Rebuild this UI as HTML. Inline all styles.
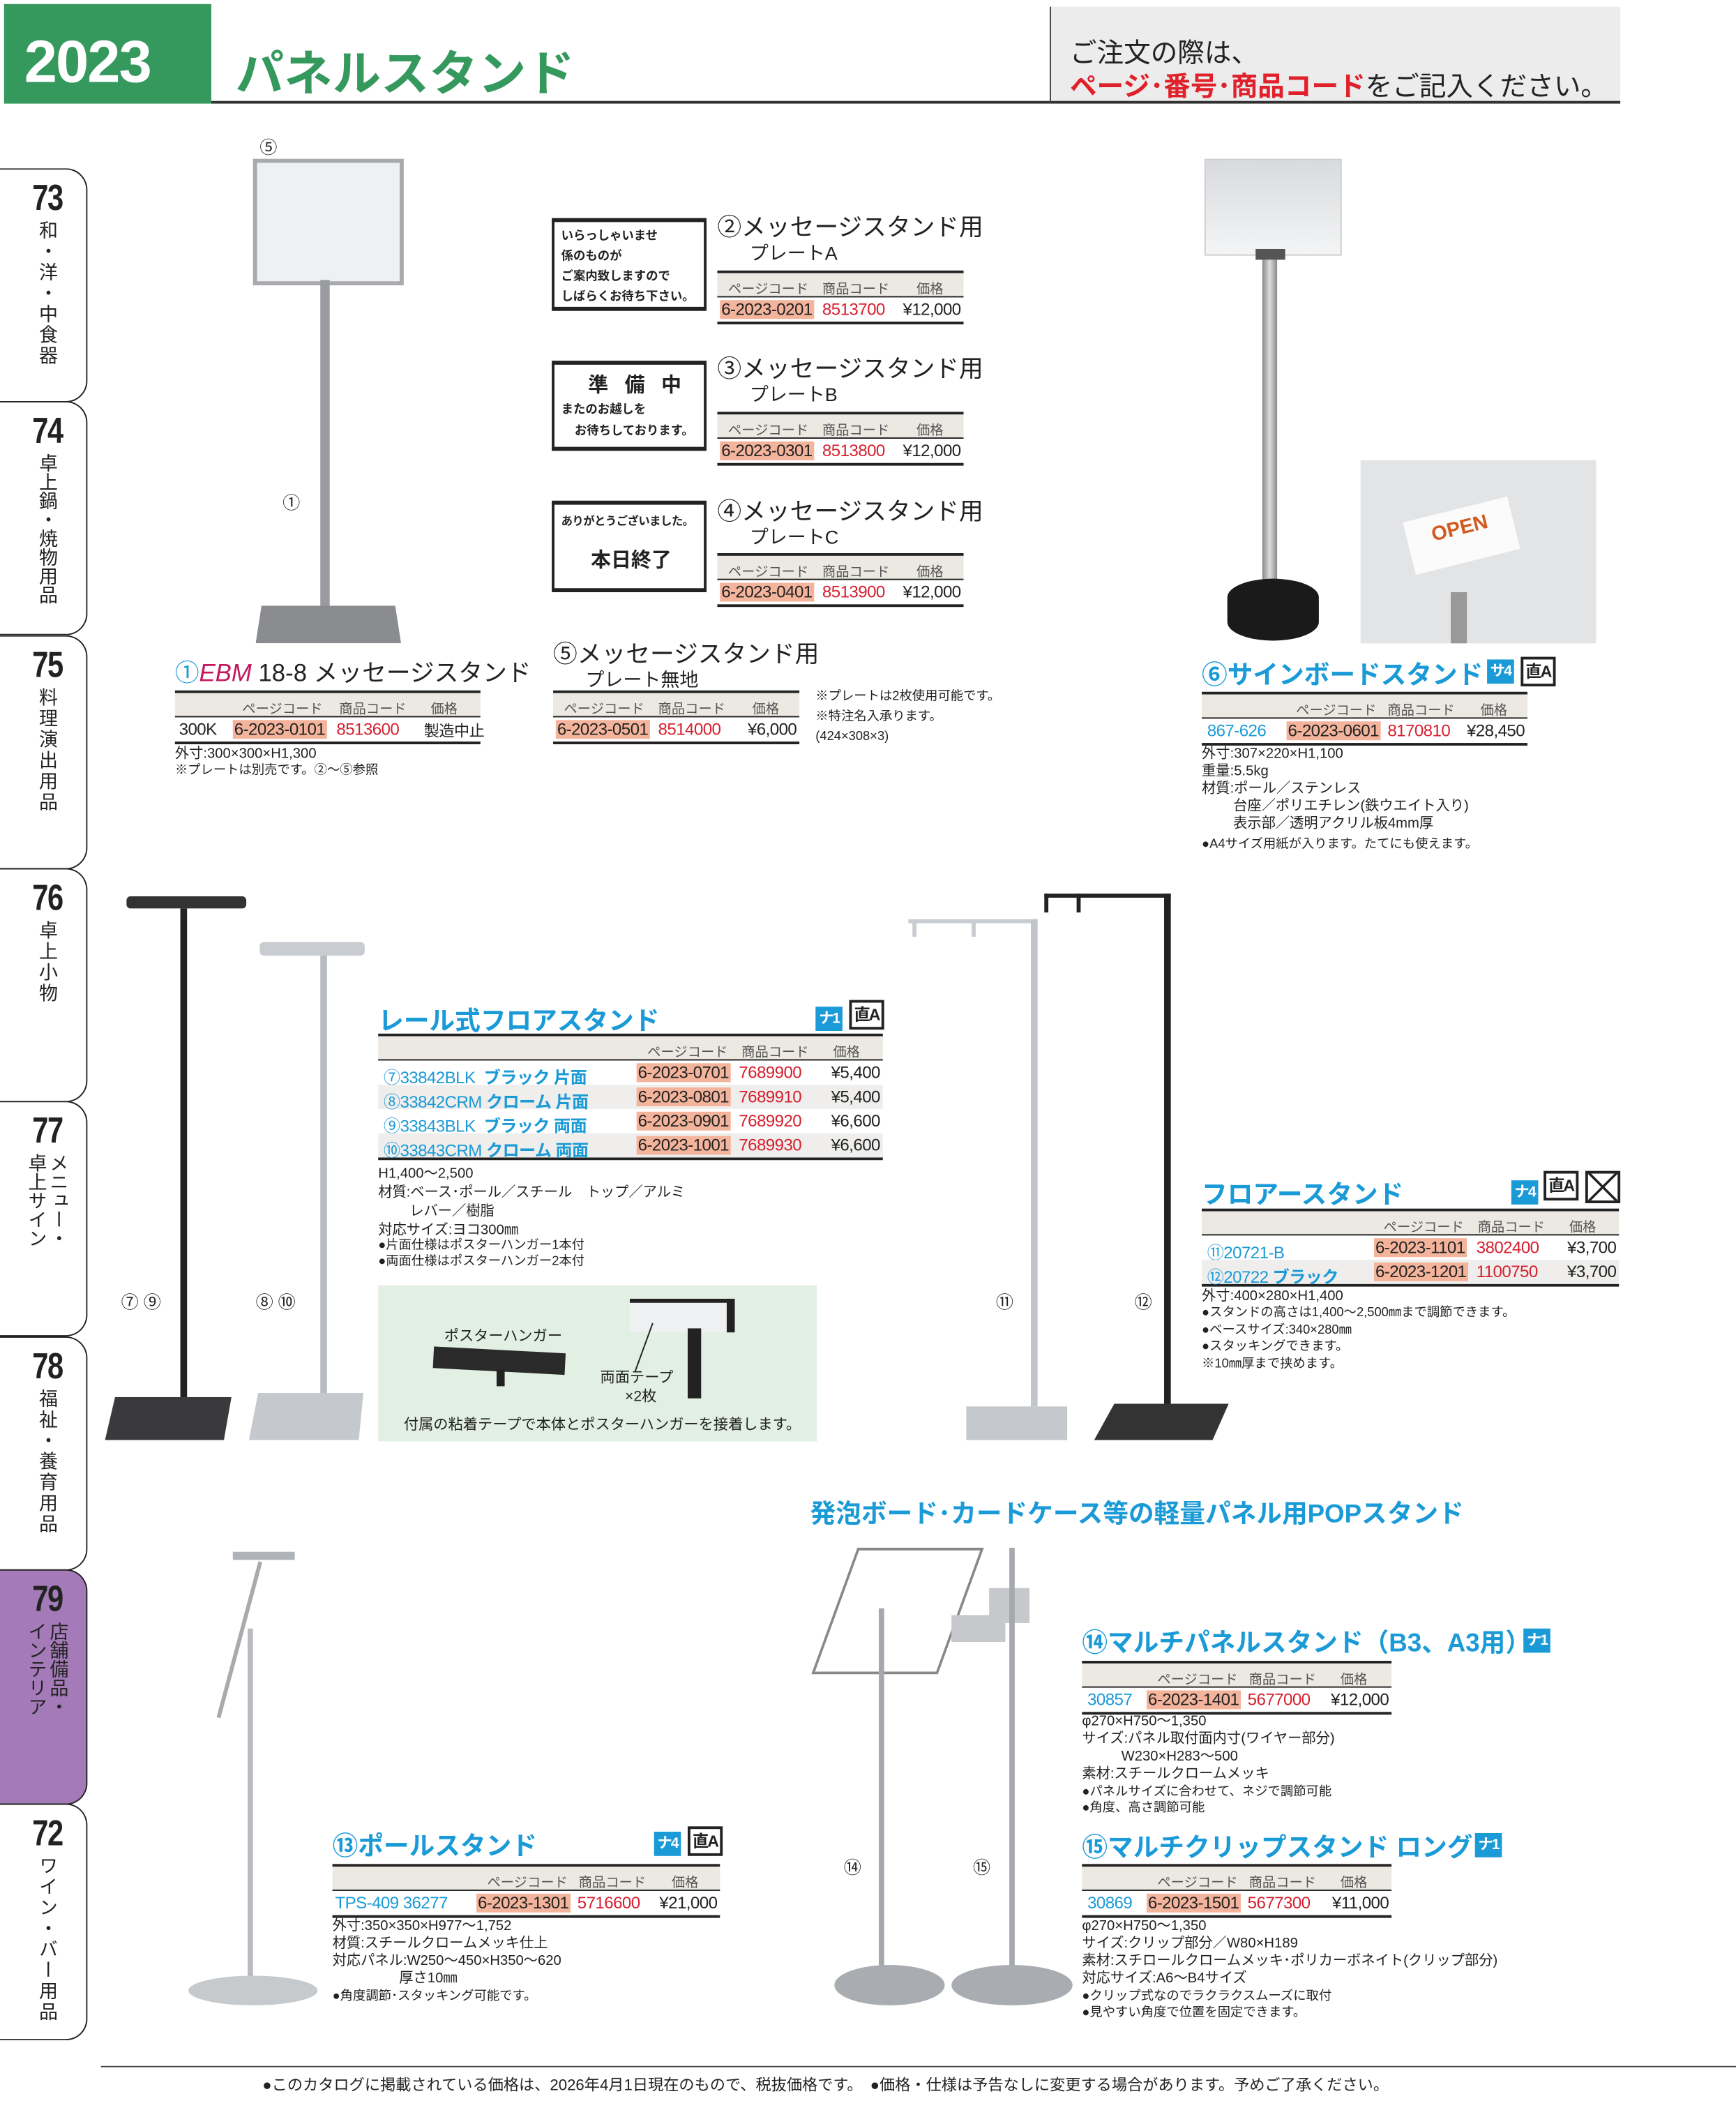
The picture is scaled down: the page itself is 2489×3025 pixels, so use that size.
<!DOCTYPE html>
<html><head><meta charset="utf-8">
<style>
html,body{margin:0;padding:0;background:#fff;}
body{width:2489px;height:3025px;overflow:hidden;position:relative;}
#w{position:absolute;left:0;top:0;width:1290px;height:1568px;transform:scale(1.9295);transform-origin:0 0;font-family:"Liberation Sans","Noto Sans CJK JP",sans-serif;color:#222;white-space:nowrap;}
.a{position:absolute;white-space:nowrap;}
.t{position:absolute;border-top:2px solid #222;border-bottom:2px solid #222;}
.th{position:relative;height:17px;background:#ece9e2;border-bottom:1.5px solid #222;font-size:10px;color:#555;}
.th span{position:absolute;top:3px;}
.tr{position:relative;height:18px;font-size:12.5px;letter-spacing:-0.3px;}
.tr span{position:absolute;top:2px;}
.tr.g{background:#efeeec;}
.pc{background:#f4b49c;padding:0 1px;}
.red{color:#d6202f;}
.blue{color:#1a9ad6;}
.ttl{color:#1a9ad6;font-weight:bold;font-size:19px;}
.sm{font-size:10.5px;line-height:13px;}
.xs{font-size:9.5px;line-height:12px;}
.badge{position:absolute;background:#1a9ad6;color:#fff;font-weight:bold;font-size:11px;width:20px;height:18px;text-align:center;line-height:18px;letter-spacing:-1px;}
.nao{position:absolute;border:2px solid #222;font-weight:bold;font-size:12px;width:22px;height:18px;line-height:18px;text-align:center;background:#fff;letter-spacing:-1px;}
.plate{position:absolute;border:3px solid #222;border-width:3px 2px 3px 2px;background:#fff;font-weight:bold;}
.tab{position:absolute;left:0;width:64px;border:1.5px solid #222;border-left:none;border-radius:0 16px 16px 0;}
.tn{position:absolute;left:24px;top:6px;font-weight:bold;font-size:27px;transform:scaleX(.8);transform-origin:0 0;letter-spacing:-1px;}
.tv{position:absolute;left:28px;top:38px;writing-mode:vertical-rl;font-size:14px;letter-spacing:1.5px;line-height:16px;}
.c{font-size:13px;}
</style></head><body><div id="w">

<!-- header -->
<div class="a" style="left:3px;top:3px;width:154px;height:74px;background:#35995e;"></div>
<div class="a" style="left:18px;top:22px;color:#fff;font-weight:bold;font-size:44px;letter-spacing:-1px;">2023</div>
<div class="a" style="left:175px;top:26px;color:#35995e;font-weight:bold;font-size:36px;">パネルスタンド</div>
<div class="a" style="left:157px;top:75px;width:623px;height:2px;background:#333;"></div>
<div class="a" style="left:780px;top:5px;width:423px;height:70px;background:#ececec;border-left:1.5px solid #444;border-bottom:2px solid #333;"></div>
<div class="a" style="left:795px;top:23px;font-size:20px;">ご注文の際は、</div>
<div class="a" style="left:795px;top:48px;font-size:20px;"><span style="color:#e0202a;font-weight:bold;">ページ･番号･商品コード</span>をご記入ください。</div>

<!-- sidebar tabs -->
<div class="tab" style="top:125px;height:172px;"><div class="tn">73</div><div class="tv">和・洋・中食器</div></div>
<div class="tab" style="top:298px;height:172px;"><div class="tn">74</div><div class="tv" style="letter-spacing:0;">卓上鍋・焼物用品</div></div>
<div class="tab" style="top:472px;height:172px;"><div class="tn">75</div><div class="tv">料理演出用品</div></div>
<div class="tab" style="top:645px;height:172px;"><div class="tn">76</div><div class="tv">卓上小物</div></div>
<div class="tab" style="top:818px;height:173px;"><div class="tn">77</div><div class="tv" style="left:20px;letter-spacing:0;">メニュー・<br>卓上サイン</div></div>
<div class="tab" style="top:993px;height:172px;"><div class="tn">78</div><div class="tv">福祉・養育用品</div></div>
<div class="tab" style="top:1166px;height:173px;background:#a47bb8;"><div class="tn">79</div><div class="tv" style="left:20px;letter-spacing:0;">店舗備品・<br>インテリア</div></div>
<div class="tab" style="top:1340px;height:174px;"><div class="tn">72</div><div class="tv">ワイン・バー用品</div></div>

<!-- item 1 stand image -->
<div class="a c" style="left:193px;top:99px;">⑤</div>
<div class="a" style="left:188px;top:118px;width:106px;height:88px;background:#eef0f2;border:3px solid #a9aaad;"></div>
<div class="a" style="left:238px;top:208px;width:7px;height:246px;background:#9a9b9f;"></div>
<div class="a c" style="left:210px;top:363px;">①</div>
<div class="a" style="left:190px;top:450px;width:108px;height:28px;background:#8a8c90;clip-path:polygon(4% 0,96% 0,100% 100%,0 100%);"></div>

<div class="a" style="left:130px;top:486px;font-size:18px;"><span class="blue">①</span><span style="color:#c2185b;font-style:italic;">EBM</span> 18-8 メッセージスタンド</div>
<div class="t" style="left:130px;top:513px;width:227px;"><div class="th"><span style="left:50px">ページコード</span><span style="left:122px">商品コード</span><span style="left:190px">価格</span></div><div class="tr"><span style="left:3px">300K</span><span style="left:43px" class="pc">6-2023-0101</span><span style="left:120px" class="red">8513600</span><span style="left:185px;font-size:11.5px;">製造中止</span></div></div>
<div class="a sm" style="left:130px;top:554px;">外寸:300×300×H1,300</div>
<div class="a xs" style="left:130px;top:567px;">※プレートは別売です。②～⑤参照</div>

<!-- plates -->
<div class="plate" style="left:410px;top:162px;font-size:9px;line-height:15px;padding:3px 0 0 5px;box-sizing:border-box;width:115px;height:69px;">いらっしゃいませ<br>係のものが<br>ご案内致しますので<br>しばらくお待ち下さい。</div>
<div class="plate" style="left:410px;top:268px;width:115px;height:67px;box-sizing:border-box;padding:4px 0 0 5px;"><div style="font-size:15px;padding-left:20px;letter-spacing:4px;">準 備 中</div><div style="font-size:9px;line-height:16px;">またのお越しを<br>&nbsp;&nbsp;&nbsp;&nbsp;お待ちしております。</div></div>
<div class="plate" style="left:410px;top:372px;width:115px;height:68px;box-sizing:border-box;padding:6px 0 0 5px;"><div style="font-size:8.5px;letter-spacing:-0.3px;">ありがとうございました。</div><div style="font-size:15px;padding:12px 0 0 22px;">本日終了</div></div>

<div class="a" style="left:533px;top:155px;font-size:18px;">②メッセージスタンド用</div>
<div class="a" style="left:557px;top:178px;font-size:14px;">プレートA</div>
<div class="t" style="left:533px;top:201px;width:183px;"><div class="th"><span style="left:8px">ページコード</span><span style="left:78px">商品コード</span><span style="left:148px">価格</span></div><div class="tr"><span style="left:2px" class="pc">6-2023-0201</span><span style="left:78px" class="red">8513700</span><span style="right:2px">¥12,000</span></div></div>
<div class="a" style="left:533px;top:260px;font-size:18px;">③メッセージスタンド用</div>
<div class="a" style="left:557px;top:283px;font-size:14px;">プレートB</div>
<div class="t" style="left:533px;top:306px;width:183px;"><div class="th"><span style="left:8px">ページコード</span><span style="left:78px">商品コード</span><span style="left:148px">価格</span></div><div class="tr"><span style="left:2px" class="pc">6-2023-0301</span><span style="left:78px" class="red">8513800</span><span style="right:2px">¥12,000</span></div></div>
<div class="a" style="left:533px;top:366px;font-size:18px;">④メッセージスタンド用</div>
<div class="a" style="left:557px;top:389px;font-size:14px;">プレートC</div>
<div class="t" style="left:533px;top:411px;width:183px;"><div class="th"><span style="left:8px">ページコード</span><span style="left:78px">商品コード</span><span style="left:148px">価格</span></div><div class="tr"><span style="left:2px" class="pc">6-2023-0401</span><span style="left:78px" class="red">8513900</span><span style="right:2px">¥12,000</span></div></div>

<div class="a" style="left:411px;top:472px;font-size:18px;">⑤メッセージスタンド用</div>
<div class="a" style="left:435px;top:495px;font-size:14px;">プレート無地</div>
<div class="t" style="left:411px;top:513px;width:183px;"><div class="th"><span style="left:8px">ページコード</span><span style="left:78px">商品コード</span><span style="left:148px">価格</span></div><div class="tr"><span style="left:2px" class="pc">6-2023-0501</span><span style="left:78px" class="red">8514000</span><span style="right:2px">¥6,000</span></div></div>
<div class="a xs" style="left:606px;top:510px;line-height:15px;">※プレートは2枚使用可能です。<br>※特注名入承ります。<br>(424×308×3)</div>

<!-- item 6 -->
<div class="a" style="left:895px;top:118px;width:100px;height:70px;background:linear-gradient(#d8dadd,#f4f5f6);border:1px solid #ccc;"></div>
<div class="a" style="left:933px;top:185px;width:22px;height:8px;background:#555;"></div>
<div class="a" style="left:938px;top:193px;width:11px;height:240px;background:linear-gradient(90deg,#888,#ddd,#888);"></div>
<div class="a" style="left:912px;top:430px;width:68px;height:46px;background:#1a1a1a;border-radius:50%/30%;"></div>
<div class="a" style="left:1011px;top:342px;width:175px;height:136px;background:#e3e4e6;"></div>
<div class="a" style="left:1046px;top:378px;width:80px;height:40px;background:#fbfbfb;transform:rotate(-14deg);color:#d35a1e;font-weight:bold;font-size:15px;text-align:center;line-height:30px;">OPEN</div>
<div class="a" style="left:1078px;top:440px;width:12px;height:38px;background:#999;"></div>

<div class="a ttl" style="left:893px;top:487px;">⑥サインボードスタンド</div>
<div class="badge" style="left:1105px;top:490px;">サ4</div>
<div class="nao" style="left:1130px;top:488px;">直A</div>
<div class="t" style="left:893px;top:514px;width:242px;"><div class="th"><span style="left:70px">ページコード</span><span style="left:138px">商品コード</span><span style="left:207px">価格</span></div><div class="tr"><span style="left:4px" class="blue">867-626</span><span style="left:63px" class="pc">6-2023-0601</span><span style="left:138px" class="red">8170810</span><span style="right:2px">¥28,450</span></div></div>
<div class="a sm" style="left:893px;top:554px;">外寸:307×220×H1,100<br>重量:5.5kg<br>材質:ポール／ステンレス<br>&nbsp;&nbsp;&nbsp;&nbsp;&nbsp;&nbsp;&nbsp;&nbsp;台座／ポリエチレン(鉄ウエイト入り)<br>&nbsp;&nbsp;&nbsp;&nbsp;&nbsp;&nbsp;&nbsp;&nbsp;表示部／透明アクリル板4mm厚</div>
<div class="a xs" style="left:893px;top:622px;">●A4サイズ用紙が入ります。たてにも使えます。</div>

<!-- rail stands -->
<div class="a" style="left:94px;top:666px;width:89px;height:9px;background:#333;border-radius:3px;"></div>
<div class="a" style="left:134px;top:675px;width:5px;height:365px;background:#222;"></div>
<div class="a" style="left:78px;top:1038px;width:94px;height:32px;background:#3a3a3c;clip-path:polygon(8% 0,100% 0,94% 100%,0 100%);"></div>
<div class="a c" style="left:90px;top:957px;">⑦ ⑨</div>
<div class="a" style="left:193px;top:700px;width:78px;height:10px;background:#c9ccd0;border-radius:3px;"></div>
<div class="a" style="left:238px;top:710px;width:5px;height:330px;background:#b8bbbf;"></div>
<div class="a" style="left:185px;top:1035px;width:85px;height:35px;background:#c5c8cc;clip-path:polygon(8% 0,100% 0,96% 100%,0 100%);"></div>
<div class="a c" style="left:190px;top:957px;">⑧ ⑩</div>

<div class="a ttl" style="left:281px;top:744px;">レール式フロアスタンド</div>
<div class="badge" style="left:606px;top:748px;">ナ1</div>
<div class="nao" style="left:631px;top:743px;">直A</div>
<div class="t" style="left:281px;top:768px;width:375px;"><div class="th"><span style="left:200px">ページコード</span><span style="left:270px">商品コード</span><span style="left:338px">価格</span></div>
<div class="tr"><span style="left:4px" class="blue">⑦33842BLK&nbsp; <b>ブラック 片面</b></span><span style="left:192px" class="pc">6-2023-0701</span><span style="left:268px" class="red">7689900</span><span style="right:2px">¥5,400</span></div>
<div class="tr g"><span style="left:4px" class="blue">⑧33842CRM <b>クローム 片面</b></span><span style="left:192px" class="pc">6-2023-0801</span><span style="left:268px" class="red">7689910</span><span style="right:2px">¥5,400</span></div>
<div class="tr"><span style="left:4px" class="blue">⑨33843BLK&nbsp; <b>ブラック 両面</b></span><span style="left:192px" class="pc">6-2023-0901</span><span style="left:268px" class="red">7689920</span><span style="right:2px">¥6,600</span></div>
<div class="tr g"><span style="left:4px" class="blue">⑩33843CRM <b>クローム 両面</b></span><span style="left:192px" class="pc">6-2023-1001</span><span style="left:268px" class="red">7689930</span><span style="right:2px">¥6,600</span></div></div>
<div class="a sm" style="left:281px;top:865px;line-height:14px;">H1,400～2,500<br>材質:ベース･ポール／スチール　トップ／アルミ<br>&nbsp;&nbsp;&nbsp;&nbsp;&nbsp;&nbsp;&nbsp;&nbsp;レバー／樹脂<br>対応サイズ:ヨコ300㎜</div>
<div class="a xs" style="left:281px;top:920px;">●片面仕様はポスターハンガー1本付<br>●両面仕様はポスターハンガー2本付</div>

<div class="a" style="left:281px;top:955px;width:326px;height:116px;background:#e2efe3;"></div>
<div class="a" style="left:330px;top:984px;font-size:11px;">ポスターハンガー</div>
<div class="a" style="left:322px;top:1003px;width:98px;height:16px;background:#2a2a2a;transform:rotate(3deg);"></div>
<div class="a" style="left:369px;top:1018px;width:6px;height:12px;background:#222;"></div>
<div class="a" style="left:468px;top:965px;width:72px;height:22px;background:#eef0f2;border-top:3px solid #222;border-right:6px solid #222;"></div>
<div class="a" style="left:511px;top:987px;width:10px;height:52px;background:#222;"></div>
<div class="a" style="left:478px;top:982px;width:1px;height:38px;background:#222;transform:rotate(20deg);"></div>
<div class="a" style="left:446px;top:1017px;font-size:11px;line-height:14px;">両面テープ<br>&nbsp;&nbsp;&nbsp;&nbsp;&nbsp;&nbsp;×2枚</div>
<div class="a" style="left:300px;top:1050px;font-size:11px;">付属の粘着テープで本体とポスターハンガーを接着します。</div>

<!-- floor stands -->
<div class="a" style="left:675px;top:683px;width:96px;height:3px;background:#c9ccd0;"></div>
<div class="a" style="left:678px;top:686px;width:3px;height:10px;background:#c9ccd0;"></div>
<div class="a" style="left:722px;top:686px;width:3px;height:10px;background:#c9ccd0;"></div>
<div class="a" style="left:766px;top:683px;width:5px;height:362px;background:#c2c5c9;"></div>
<div class="a" style="left:718px;top:1045px;width:75px;height:25px;background:#c5c8cc;"></div>
<div class="a c" style="left:740px;top:957px;">⑪</div>
<div class="a" style="left:776px;top:664px;width:94px;height:3px;background:#222;"></div>
<div class="a" style="left:776px;top:664px;width:3px;height:14px;background:#222;"></div>
<div class="a" style="left:800px;top:664px;width:3px;height:14px;background:#222;"></div>
<div class="a" style="left:865px;top:664px;width:5px;height:380px;background:#222;"></div>
<div class="a" style="left:813px;top:1043px;width:100px;height:27px;background:#333;clip-path:polygon(15% 0,100% 0,88% 100%,0 100%);"></div>
<div class="a c" style="left:843px;top:957px;">⑫</div>

<div class="a ttl" style="left:893px;top:873px;">フロアースタンド</div>
<div class="badge" style="left:1123px;top:877px;">ナ4</div>
<div class="nao" style="left:1147px;top:870px;">直A</div>
<div class="a" style="left:1178px;top:870px;width:22px;height:20px;border:2px solid #222;background:linear-gradient(45deg,transparent 47%,#222 47%,#222 53%,transparent 53%),linear-gradient(-45deg,transparent 47%,#222 47%,#222 53%,transparent 53%);"></div>
<div class="t" style="left:893px;top:898px;width:310px;"><div class="th"><span style="left:135px">ページコード</span><span style="left:205px">商品コード</span><span style="left:273px">価格</span></div>
<div class="tr"><span style="left:4px" class="blue">⑪20721-B</span><span style="left:128px" class="pc">6-2023-1101</span><span style="left:204px" class="red">3802400</span><span style="right:2px">¥3,700</span></div>
<div class="tr g"><span style="left:4px" class="blue">⑫20722 <b>ブラック</b></span><span style="left:128px" class="pc">6-2023-1201</span><span style="left:204px" class="red">1100750</span><span style="right:2px">¥3,700</span></div></div>
<div class="a sm" style="left:893px;top:957px;">外寸:400×280×H1,400</div>
<div class="a xs" style="left:893px;top:970px;line-height:12.5px;">●スタンドの高さは1,400～2,500㎜まで調節できます。<br>●ベースサイズ:340×280㎜<br>●スタッキングできます。<br>※10㎜厚まで挟めます。</div>

<!-- POP section -->
<div class="a" style="left:602px;top:1110px;color:#1a9ad6;font-weight:bold;font-size:19px;">発泡ボード･カードケース等の軽量パネル用POPスタンド</div>

<div class="a" style="left:173px;top:1153px;width:46px;height:6px;background:#b0b3b7;"></div>
<div class="a" style="left:192px;top:1160px;width:3px;height:120px;background:#aaa;transform:rotate(15deg);transform-origin:0 0;"></div>
<div class="a" style="left:184px;top:1210px;width:4px;height:262px;background:#b8bbbf;"></div>
<div class="a" style="left:140px;top:1468px;width:96px;height:22px;background:#c7cacd;border-radius:50%;"></div>

<div class="a" style="left:620px;top:1150px;width:90px;height:90px;border:2px solid #888;transform:skewX(-20deg);"></div>
<div class="a" style="left:653px;top:1195px;width:4px;height:270px;background:#a5a8ac;"></div>
<div class="a c" style="left:627px;top:1377px;">⑭</div>
<div class="a" style="left:620px;top:1460px;width:82px;height:30px;background:#a9acb0;border-radius:50%;"></div>
<div class="a" style="left:735px;top:1180px;width:30px;height:26px;background:#c6c8cc;"></div>
<div class="a" style="left:707px;top:1200px;width:40px;height:20px;background:#c6c8cc;"></div>
<div class="a" style="left:750px;top:1150px;width:4px;height:312px;background:#a5a8ac;"></div>
<div class="a c" style="left:723px;top:1377px;">⑮</div>
<div class="a" style="left:707px;top:1460px;width:90px;height:30px;background:#a9acb0;border-radius:50%;"></div>

<div class="a ttl" style="left:247px;top:1357px;">⑬ポールスタンド</div>
<div class="badge" style="left:486px;top:1361px;">ナ4</div>
<div class="nao" style="left:511px;top:1357px;">直A</div>
<div class="t" style="left:247px;top:1385px;width:288px;"><div class="th"><span style="left:115px">ページコード</span><span style="left:183px">商品コード</span><span style="left:252px">価格</span></div><div class="tr"><span style="left:2px" class="blue">TPS-409 36277</span><span style="left:107px" class="pc">6-2023-1301</span><span style="left:182px" class="red">5716600</span><span style="right:2px">¥21,000</span></div></div>
<div class="a sm" style="left:247px;top:1425px;">外寸:350×350×H977～1,752<br>材質:スチールクロームメッキ仕上<br>対応パネル:W250～450×H350～620<br>&nbsp;&nbsp;&nbsp;&nbsp;&nbsp;&nbsp;&nbsp;&nbsp;&nbsp;&nbsp;&nbsp;&nbsp;&nbsp;&nbsp;&nbsp;&nbsp;&nbsp;厚さ10㎜</div>
<div class="a xs" style="left:247px;top:1478px;">●角度調節･スタッキング可能です。</div>

<div class="a ttl" style="left:804px;top:1206px;">⑭マルチパネルスタンド（B3、A3用）</div>
<div class="badge" style="left:1132px;top:1210px;">ナ1</div>
<div class="t" style="left:804px;top:1234px;width:230px;"><div class="th"><span style="left:56px">ページコード</span><span style="left:124px">商品コード</span><span style="left:192px">価格</span></div><div class="tr"><span style="left:4px" class="blue">30857</span><span style="left:48px" class="pc">6-2023-1401</span><span style="left:123px" class="red">5677000</span><span style="right:2px">¥12,000</span></div></div>
<div class="a sm" style="left:804px;top:1273px;">φ270×H750～1,350<br>サイズ:パネル取付面内寸(ワイヤー部分)<br>&nbsp;&nbsp;&nbsp;&nbsp;&nbsp;&nbsp;&nbsp;&nbsp;&nbsp;&nbsp;W230×H283～500<br>素材:スチールクロームメッキ</div>
<div class="a xs" style="left:804px;top:1326px;">●パネルサイズに合わせて、ネジで調節可能<br>●角度、高さ調節可能</div>

<div class="a ttl" style="left:804px;top:1358px;">⑮マルチクリップスタンド ロング</div>
<div class="badge" style="left:1096px;top:1362px;">ナ1</div>
<div class="t" style="left:804px;top:1385px;width:230px;"><div class="th"><span style="left:56px">ページコード</span><span style="left:124px">商品コード</span><span style="left:192px">価格</span></div><div class="tr"><span style="left:4px" class="blue">30869</span><span style="left:48px" class="pc">6-2023-1501</span><span style="left:123px" class="red">5677300</span><span style="right:2px">¥11,000</span></div></div>
<div class="a sm" style="left:804px;top:1425px;">φ270×H750～1,350<br>サイズ:クリップ部分／W80×H189<br>素材:スチロールクロームメッキ･ポリカーボネイト(クリップ部分)<br>対応サイズ:A6～B4サイズ</div>
<div class="a xs" style="left:804px;top:1478px;">●クリップ式なのでラクラクスムーズに取付<br>●見やすい角度で位置を固定できます。</div>

<!-- footer -->
<div class="a" style="left:75px;top:1535px;width:1215px;height:1px;background:#444;"></div>
<div class="a" style="left:195px;top:1541px;font-size:11.5px;">●このカタログに掲載されている価格は、2026年4月1日現在のもので、税抜価格です。　●価格・仕様は予告なしに変更する場合があります。予めご了承ください。</div>

</div></body></html>
